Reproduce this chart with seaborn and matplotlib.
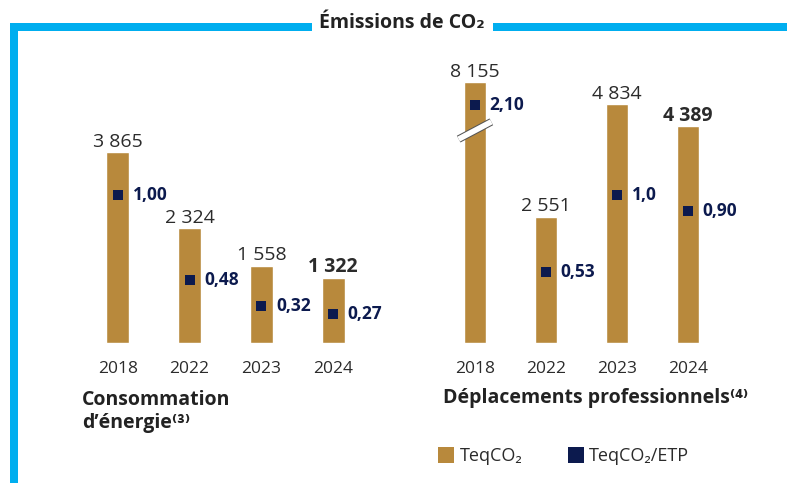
import matplotlib
matplotlib.use("Agg")
import matplotlib.pyplot as plt
import numpy as np
import pandas as pd
import seaborn as sns
from matplotlib.patches import Rectangle
from matplotlib.lines import Line2D
import matplotlib.patheffects as pe

years = ['2018', '2022', '2023', '2024']

energie_teq = [3865, 2324, 1558, 1322]
energie_etp = [1.00, 0.48, 0.32, 0.27]
energie_etp_labels = ['1,00', '0,48', '0,32', '0,27']

deplac_teq = [8155, 2551, 4834, 4389]
deplac_etp = [2.10, 0.53, 1.0, 0.90]
deplac_etp_labels = ['2,10', '0,53', '1,0', '0,90']

# axis break for the 2018 travel bar
BAR_CAP = 5280
ETP_CAP = 1.55

GOLD = '#B8893C'
NAVY = '#0c1a4e'
CYAN = '#00AEEF'
GREY = '#2b2b2b'

sns.set_style('white')
plt.rcParams['font.family'] = ['Open Sans', 'DejaVu Sans']

W, H = 787, 483
fig = plt.figure(figsize=(W / 100, H / 100), dpi=100)


def fx(px):
    return px / W


def fy(py):
    return 1 - py / H


def panel(left, width, teq, etp, etp_labels):
    ax = fig.add_axes([fx(left), fy(343), fx(width), 283 / H])
    shown = [min(v, BAR_CAP) for v in teq]
    df = pd.DataFrame({'year': years, 'teq': shown})
    sns.barplot(data=df, x='year', y='teq', order=years, color=GOLD,
                saturation=1, width=0.32, ax=ax)
    ax.set_ylim(0, 5730)
    ax.set_xlim(-0.5, 3.5)
    ax.set_xlabel('')
    ax.set_ylabel('')
    ax.set_yticks([])
    ax.tick_params(axis='x', length=0, pad=13, labelsize=12.5, labelcolor=GREY)
    for i, (v, h) in enumerate(zip(teq, shown)):
        ax.annotate(f"{v:,}".replace(',', ' '), (i, h), xytext=(0, 4),
                    textcoords='offset points', ha='center', va='baseline',
                    fontsize=14, color=GREY,
                    fontweight='bold' if i == len(teq) - 1 else 'normal')
        if v > BAR_CAP:
            yb = BAR_CAP * 0.815
            ax.plot([i - 0.23, i + 0.23], [yb - 175, yb + 175], color='white',
                    lw=4, solid_capstyle='butt', clip_on=False,
                    path_effects=[pe.Stroke(linewidth=5.5, foreground='#555555'),
                                  pe.Normal()])
    sns.despine(ax=ax, left=True, bottom=True)

    ax2 = ax.twinx()
    shown2 = [min(v, ETP_CAP) for v in etp]
    sns.scatterplot(x=np.arange(len(years)), y=shown2, marker='s', s=52,
                    color=NAVY, linewidth=0, ax=ax2, zorder=3)
    ax2.set_ylim(0.092, 1.828)
    ax2.set_yticks([])
    ax2.set_ylabel('')
    for i, (v, lab) in enumerate(zip(shown2, etp_labels)):
        ax2.annotate(lab, (i, v), xytext=(10.5, 0), textcoords='offset points',
                     ha='left', va='center', fontsize=12.5, fontweight='bold',
                     color=NAVY)
    sns.despine(ax=ax2, left=True, bottom=True, right=True)
    return ax


panel(82, 287, energie_teq, energie_etp, energie_etp_labels)
panel(439.5, 284, deplac_teq, deplac_etp, deplac_etp_labels)

# blue bracket frame
for x0, y0, x1, y1 in [(10, 23, 18, 483), (10, 23, 312, 30.5), (493, 23, 787, 30.5)]:
    fig.add_artist(Rectangle((fx(x0), fy(y1)), fx(x1 - x0), (y1 - y0) / H,
                             transform=fig.transFigure, color=CYAN, lw=0))

fig.text(fx(402), fy(28), 'Émissions de CO₂', ha='center', va='baseline',
         fontsize=14, fontweight='bold', color='#222222')

fig.text(fx(82), fy(428), 'Consommation\nd’énergie⁽³⁾', ha='left', va='baseline',
         fontsize=14, fontweight='bold', color='#222222', linespacing=1.2)
fig.text(fx(443), fy(403), 'Déplacements professionnels⁽⁴⁾', ha='left',
         va='baseline', fontsize=14, fontweight='bold', color='#222222')

handles = [Line2D([], [], marker='s', ls='', markersize=11, color=GOLD, markeredgewidth=0),
           Line2D([], [], marker='s', ls='', markersize=11, color=NAVY, markeredgewidth=0)]
fig.legend(handles, ['TeqCO₂', 'TeqCO₂/ETP'], loc='center left',
           bbox_to_anchor=(fx(438), fy(456)), ncol=2, frameon=False,
           fontsize=13, handlelength=0.9, handletextpad=0.3, columnspacing=2.5,
           borderaxespad=0, borderpad=0, labelcolor=GREY)

fig.savefig('out.png', dpi=100)
